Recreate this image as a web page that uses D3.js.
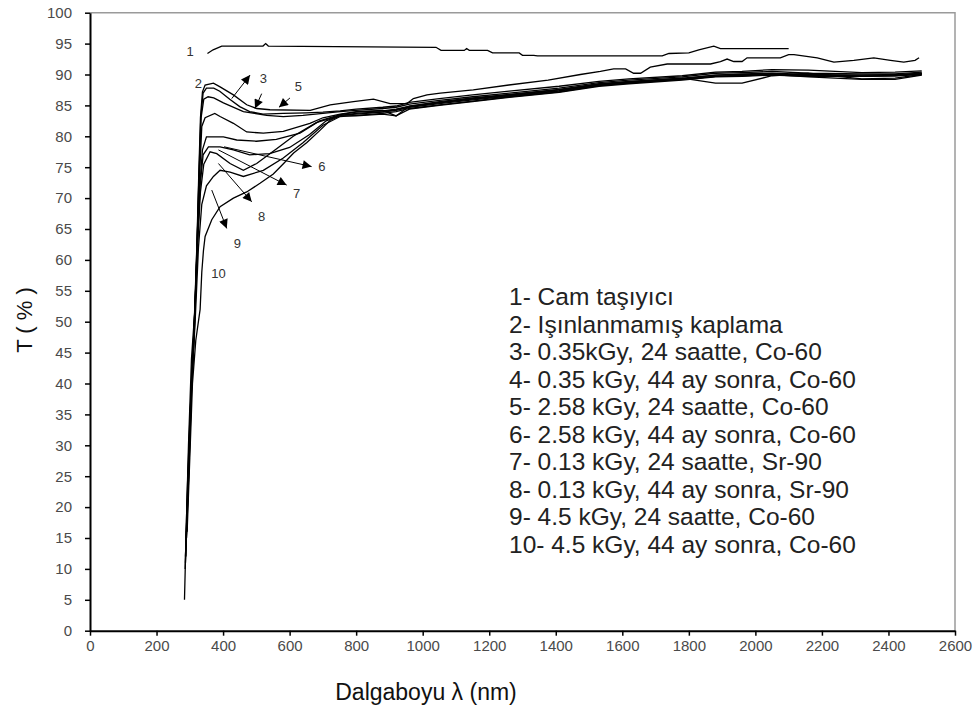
<!DOCTYPE html>
<html>
<head>
<meta charset="utf-8">
<script src="https://cdn.jsdelivr.net/npm/d3@7"></script>
<style>
  body { margin: 0; background: #fff; }
  text { font-family: "Liberation Sans", Arial, sans-serif; }
</style>
</head>
<body>
<svg id="chart" width="979" height="708"></svg>
<script>
// Tick values
const xTicks = d3.range(0, 2601, 200);
const yTicks = d3.range(0, 101, 5);

// Legend entries
const legendLines = [
  '1- Cam taşıyıcı',
  '2- Işınlanmamış kaplama',
  '3- 0.35kGy, 24 saatte, Co-60',
  '4- 0.35 kGy, 44 ay sonra, Co-60',
  '5- 2.58 kGy, 24 saatte, Co-60',
  '6- 2.58 kGy, 44 ay sonra, Co-60',
  '7- 0.13 kGy, 24 saatte, Sr-90',
  '8- 0.13 kGy, 44 ay sonra, Sr-90',
  '9- 4.5 kGy, 24 saatte, Co-60',
  '10- 4.5 kGy, 44 ay sonra, Co-60'
];

// Curve 1 (glass) and curve 2 (unirradiated): [nm, T%]
const curve1 = [[353,93.4],[370,94.0],[396,94.6],[520,94.6],[528,95.0],[536,94.6],[1040,94.4],[1055,93.9],[1125,93.9],[1132,94.2],[1140,93.9],[1195,93.9],[1210,93.5],[1290,93.5],[1300,93.1],[1334,93.1],[1345,93.0],[1720,93.0],[1740,93.4],[1800,93.5],[1830,94.0],[1875,94.6],[1895,94.2],[2100,94.2]];
const curve2 = [[284,5],[289,16],[296,30],[305,44],[314,51],[321,62],[327,74],[332,83],[338,87.2],[346,88.3],[371,88.6],[391,88.0],[431,86.7],[471,85.1],[501,84.5],[541,84.3],[662,84.2],[722,85.1],[792,85.6],[852,86.0],[902,85.3],[953,85.3],[972,86.1],[1013,86.7],[1053,87.0],[1152,87.5],[1259,88.3],[1377,89.1],[1474,90.0],[1534,90.5],[1574,90.9],[1610,90.9],[1634,90.2],[1655,90.2],[1684,91.2],[1735,91.7],[1865,91.7],[1895,92.1],[1915,92.5],[1935,92.1],[1960,92.1],[1975,92.7],[2075,92.7],[2100,93.2],[2116,93.2],[2186,92.7],[2236,92.0],[2296,92.3],[2356,92.7],[2406,92.3],[2446,92.0],[2480,92.3],[2492,92.7]];

// Curves 3-10 below 760 nm
const head3 = [[286,10],[292,22],[300,34],[310,46],[318,55],[326,71],[333,83],[340,87.0],[350,87.8],[372,87.8],[390,87.3],[420,86.0],[450,84.8],[480,84.0],[520,83.6],[580,83.7],[650,83.8],[700,83.9],[752,84.1]];
const head4 = [[287,11],[293,22],[301,35],[311,47],[319,57],[327,72],[334,83],[342,86.0],[355,86.4],[372,86.2],[401,85.4],[461,84.0],[531,83.4],[581,83.2],[640,83.4],[700,83.7],[752,84.0]];
const head5 = [[287,12],[294,23],[302,36],[312,47],[320,60],[328,72],[336,81.6],[346,83.0],[375,83.7],[391,83.2],[431,82.1],[471,80.7],[521,80.5],[581,80.8],[661,82.1],[700,83.0],[752,83.6]];
const head6 = [[288,12],[295,24],[303,37],[312,48],[321,60],[330,72],[338,77.8],[350,79.9],[401,79.9],[441,79.4],[500,79.2],[560,79.5],[631,80.5],[690,82.5],[752,83.5]];
const head7 = [[288,13],[296,25],[304,38],[313,48],[322,62],[331,72],[340,77.0],[356,78.3],[391,78.3],[431,77.8],[480,77.0],[540,77.2],[600,78.2],[660,80.3],[710,82.5],[752,83.4]];
const head8 = [[289,14],[297,26],[305,39],[314,49],[323,62],[332,71],[342,75.5],[361,77.5],[381,77.2],[421,75.6],[461,74.5],[501,75.6],[561,78.0],[611,80.0],[680,82.2],[752,83.4]];
const head9 = [[290,15],[298,27],[306,40],[316,50],[326,62],[336,69],[350,72.0],[371,73.5],[391,74.5],[421,74.2],[461,73.5],[521,74.5],[581,76.5],[641,79.0],[700,81.8],[752,83.2]];
const head10 = [[292,16],[300,28],[308,40],[318,47],[331,52],[336,58],[341,61.5],[346,63.8],[366,66.5],[391,68.6],[431,70.0],[471,71.0],[511,72.4],[551,73.9],[582,75.6],[612,77.3],[652,79.0],[692,81.0],[722,82.6],[752,83.3]];

// Curves 3-10 above 760 nm, shared wavelengths
const tailNm = [800, 880, 920, 960, 1050, 1150, 1260, 1410, 1530, 1620, 1780, 1880, 1960, 2050, 2160, 2320, 2420, 2500];
const tail3  = [84.4, 84.7, 84.9, 85.5, 86.1, 86.7, 87.3, 88.1, 88.9, 89.3, 89.8, 90.4, 90.5, 90.8, 90.7, 90.3, 90.4, 90.6];
const tail4  = [84.2, 84.5, 84.7, 85.2, 85.8, 86.4, 87.0, 87.8, 88.7, 89.1, 89.6, 90.2, 90.3, 90.5, 90.2, 90.1, 90.1, 90.4];
const tail5  = [84.0, 84.2, 83.3, 84.9, 85.6, 86.2, 86.8, 87.6, 88.5, 88.9, 89.4, 89.9, 90.1, 90.2, 90.0, 89.9, 89.9, 90.2];
const tail6  = [83.9, 84.1, 84.4, 84.9, 85.5, 86.1, 86.7, 87.5, 88.4, 88.8, 89.4, 88.6, 88.6, 89.8, 90.2, 89.3, 89.4, 90.0];
const tail7  = [83.7, 84.0, 84.3, 84.8, 85.4, 86.0, 86.6, 87.4, 88.3, 88.7, 89.3, 89.9, 90.0, 90.1, 89.8, 89.9, 90.0, 90.1];
const tail8  = [83.6, 83.9, 84.2, 84.7, 85.3, 85.9, 86.5, 87.3, 88.3, 88.7, 89.2, 89.7, 89.9, 90.0, 89.9, 89.7, 89.8, 90.2];
const tail9  = [83.4, 83.7, 84.0, 84.5, 85.1, 85.7, 86.4, 87.2, 88.2, 88.6, 89.2, 89.7, 89.8, 90.0, 89.6, 89.2, 89.2, 89.9];
const tail10 = [83.3, 83.6, 83.3, 84.4, 85.0, 85.6, 86.3, 87.1, 88.1, 88.5, 89.1, 89.6, 89.7, 89.9, 89.7, 89.7, 89.8, 90.0];

// Curve number labels [text, nm, T]
const curveLabels = [['1',301,93.7],['2',326,88.6],['3',521,89.4],['5',626,88.0],['6',697,75.1],['7',621,70.8],['8',516,67.0],['9',443,62.7],['10',386,57.8]];

// Arrows [fromNm, fromT, toNm, toT]
const arrows = [[426,86.1,481,89.9],[516,86.9,496,84.5],[601,86.2,568,84.7],[403,78.3,666,75.1],[386,77.8,591,72.1],[386,75.6,486,69.4],[366,71.3,411,65.1]];

// Select the rendering stage
const svg = d3.select('#chart');
const mLeft = 90, mRight = 955, mTop = 12.7, mBottom = 630.7;

const x = d3.scaleLinear().domain([0, 2600]).range([mLeft, mRight]);
const y = d3.scaleLinear().domain([0, 100]).range([mBottom, mTop]);

// Plot frame (top and right, grey)
svg.append('path')
  .attr('d', `M${mLeft},${mTop}H${mRight}V${mBottom}`)
  .attr('fill', 'none')
  .attr('stroke', '#9a9a9a')
  .attr('stroke-width', 1.5);

// Axes
const xAxis = svg.append('g')
  .attr('transform', `translate(0,${mBottom})`)
  .call(d3.axisBottom(x).tickValues(xTicks).tickFormat(d3.format('d'))
    .tickSize(5).tickSizeOuter(0).tickPadding(5));
const yAxis = svg.append('g')
  .attr('transform', `translate(${mLeft},0)`)
  .call(d3.axisLeft(y).tickValues(yTicks).tickSize(5).tickSizeOuter(0).tickPadding(13));

[xAxis, yAxis].forEach(g => {
  g.select('.domain').attr('stroke', '#000').attr('stroke-width', 2);
  g.selectAll('.tick line').attr('stroke', '#000').attr('stroke-width', 1.5);
  g.selectAll('.tick text')
    .attr('fill', '#4a4a4a')
    .style('font-size', '15px')
    .style('font-family', '"Liberation Sans", Arial, sans-serif');
});

// Build the ten series
const heads = [head3, head4, head5, head6, head7, head8, head9, head10];
const tails = [tail3, tail4, tail5, tail6, tail7, tail8, tail9, tail10];
const series = [curve1, curve2].concat(
  heads.map((h, i) => h.concat(tailNm.map((nm, j) => [nm, tails[i][j]])))
);

const line = d3.line().x(d => x(d[0])).y(d => y(d[1]));

svg.append('g')
  .selectAll('path')
  .data(series)
  .join('path')
  .attr('d', line)
  .attr('fill', 'none')
  .attr('stroke', '#000')
  .attr('stroke-width', 1.3);

// Arrow markers
svg.append('defs').append('marker')
  .attr('id', 'head')
  .attr('viewBox', '0 0 10 10')
  .attr('refX', 10).attr('refY', 5)
  .attr('markerWidth', 11).attr('markerHeight', 9)
  .attr('markerUnits', 'userSpaceOnUse')
  .attr('orient', 'auto')
  .append('path')
  .attr('d', 'M0,0L10,5L0,10Z')
  .attr('fill', '#000');

svg.append('g')
  .selectAll('line')
  .data(arrows)
  .join('line')
  .attr('x1', d => x(d[0])).attr('y1', d => y(d[1]))
  .attr('x2', d => x(d[2])).attr('y2', d => y(d[3]))
  .attr('stroke', '#000')
  .attr('stroke-width', 1)
  .attr('marker-end', 'url(#head)');

// Curve numbers
svg.append('g')
  .selectAll('text')
  .data(curveLabels)
  .join('text')
  .attr('x', d => x(d[1]))
  .attr('y', d => y(d[2]))
  .attr('dy', '0.35em')
  .attr('text-anchor', 'middle')
  .attr('fill', '#333')
  .style('font-size', '13px')
  .text(d => d[0]);

// Legend
svg.append('g')
  .selectAll('text')
  .data(legendLines)
  .join('text')
  .attr('x', 509)
  .attr('y', (d, i) => 305 + i * 27.5)
  .attr('fill', '#222')
  .style('font-size', '24.5px')
  .text(d => d);

// Axis titles
svg.append('text')
  .attr('x', 426).attr('y', 700)
  .attr('text-anchor', 'middle')
  .attr('fill', '#111')
  .style('font-size', '23px')
  .text('Dalgaboyu λ (nm)');

svg.append('text')
  .attr('transform', 'translate(32,320) rotate(-90)')
  .attr('text-anchor', 'middle')
  .attr('fill', '#111')
  .style('font-size', '22px')
  .text('T ( % )');
</script>
</body>
</html>
